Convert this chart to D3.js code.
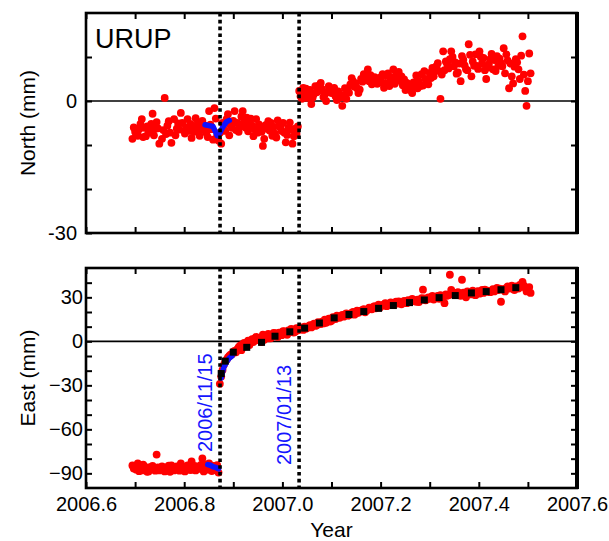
<!DOCTYPE html>
<html>
<head>
<meta charset="utf-8">
<script src="https://cdn.jsdelivr.net/npm/d3@7"></script>
<style>
  body { margin: 0; background: #fff; }
  text { font-family: "Liberation Sans", Arial, sans-serif; }
</style>
</head>
<body>
<div id="chart"></div>
<script>
const station = "URUP";

/* events (decimal year) and their labels */
const eventYears = [2006.873, 2007.034];
const eventLabels = ["2006/11/15", "2007/01/13"];

/* ticks */
const xTickValues = [2006.6, 2006.7, 2006.8, 2006.9, 2007.0, 2007.1, 2007.2, 2007.3, 2007.4, 2007.5, 2007.6];
const xLabelValues = [2006.6, 2006.8, 2007.0, 2007.2, 2007.4, 2007.6];
const northTicks = [-20, -10, 0, 10];
const northLabels = [-30, 0];
const eastTicks = [-90, -80, -70, -60, -50, -40, -30, -20, -10, 0, 10, 20, 30, 40];
const eastLabels = [-90, -60, -30, 0, 30];

/* daily solutions: [day of 2006 (Jan 1 = 1), mm] */
const northObs = [
  [254,-8.6],[255,-6.0],[256,-7.0],[257,-7.5],[258,-7.9],[259,-6.4],[260,-5.2],[261,-4.1],[262,-8.2],[263,-6.1],
  [264,-8.0],[265,-5.8],[266,-7.2],[267,-6.6],[268,-5.2],[269,-2.9],[270,-7.8],[271,-6.3],[272,-4.8],[273,-6.2],
  [274,-9.7],[276,-8.6],[277,-6.6],[278,0.7],[279,-7.5],[280,-5.6],[281,-4.6],[282,-7.2],[283,-9.5],[285,-4.1],
  [286,-7.8],[287,-6.3],[288,-5.1],[289,-6.5],[290,-2.7],[291,-5.0],[293,-7.4],[294,-6.0],[295,-4.1],[296,-6.8],
  [297,-5.2],[298,-8.4],[299,-5.6],[300,-7.0],[301,-3.9],[302,-6.3],[303,-5.0],[304,-7.9],[305,-6.5],[306,-4.5],
  [307,-6.0],[308,-5.6],[309,-7.2],[310,-8.2],[311,-2.3],[312,-5.4],[313,-6.4],[314,-8.8],[315,-1.6],[316,-4.0],
  [317,-7.9],[318,-9.0],
  [319,-7.2],[320,-9.7],[321,-5.0],[322,-6.4],[323,-6.8],[324,-4.1],[325,-3.0],[326,-7.8],[327,-5.5],[328,-6.1],
  [329,-4.5],[330,-2.3],[331,-6.6],[332,-5.0],[333,-7.0],[334,-5.8],[335,-3.5],[336,-2.3],[337,-4.6],[338,-6.0],
  [339,-3.8],[340,-6.9],[341,-5.2],[342,-4.0],[343,-5.6],[344,-8.0],[345,-6.5],[346,-4.1],[347,-7.2],[348,-5.3],
  [349,-5.8],[350,-7.0],[351,-10.2],[352,-8.6],[353,-5.5],[354,-6.3],[355,-4.6],[356,-6.7],[357,-5.0],[358,-7.9],
  [359,-5.9],[360,-7.4],[361,-8.3],[362,-4.4],[363,-5.6],[364,-6.0],[365,-6.8],[366,-5.0],[367,-7.2],[368,-9.4],
  [369,-7.7],[370,-6.1],[371,-4.9],[372,-6.4],[373,-9.7],[374,-8.0],[375,-6.3],[376,-7.5],[377,-5.8],
  [378,2.3],[379,1.1],[380,0.5],[381,3.0],[382,1.8],[383,2.8],[384,0.7],[385,1.5],[386,2.5],[387,-0.7],
  [388,0.8],[389,1.6],[390,3.4],[391,2.0],[392,2.2],[393,3.6],[394,4.1],[395,2.7],[396,0.9],[397,1.5],
  [398,0.0],[399,2.0],[400,3.4],[401,2.4],[402,1.8],[403,2.6],[404,3.0],[405,1.1],[406,0.2],[407,2.2],
  [408,1.6],[409,0.8],[410,-1.1],[411,1.2],[412,2.9],[413,0.5],[414,2.5],[415,1.9],[416,3.8],[417,5.2],
  [418,4.5],[419,3.3],[420,4.0],[421,2.9],[422,1.8],[423,2.6],[424,5.0],[425,4.4],[426,6.1],[427,4.8],
  [428,5.6],[429,7.2],[430,4.5],[431,5.9],[432,3.8],[433,4.8],[434,5.4],[435,5.0],[436,3.9],[437,5.2],
  [438,4.2],[439,5.5],[440,6.1],[441,3.0],[442,4.1],[443,5.8],[444,6.3],[445,3.4],[446,4.7],[447,5.3],
  [448,7.2],[449,3.9],[450,6.1],[451,4.6],[452,6.6],[453,5.0],[454,5.6],[455,3.6],[456,4.9],[457,2.5],
  [458,4.1],[459,3.8],[460,3.0],[461,2.4],[462,1.8],[463,4.2],[464,3.3],[465,5.8],[466,2.9],[467,4.5],
  [468,3.4],[469,6.1],[470,3.5],[471,6.8],[472,5.0],[473,4.4],[474,3.8],[475,6.4],[476,5.2],[477,7.5],
  [478,5.6],[479,7.0],[480,7.9],[481,8.6],[482,6.8],[483,0.5],[484,6.0],[485,11.3],[486,7.0],[487,9.0],
  [488,8.4],[489,7.4],[490,9.5],[491,11.3],[492,10.0],[493,7.9],[494,8.8],[495,6.2],[496,6.5],[497,8.5],
  [498,4.5],[499,10.2],[500,9.4],[501,8.1],[502,7.2],[503,7.0],[504,12.9],[505,10.5],[506,5.6],[507,9.0],
  [508,8.0],[509,10.6],[510,8.0],[511,7.3],[512,11.3],[513,10.0],[514,8.6],[515,9.8],[516,7.0],[517,5.0],
  [518,7.6],[519,8.4],[520,9.5],[521,10.7],[522,7.2],[523,9.3],[524,6.8],[525,10.2],[526,8.0],[527,9.6],
  [528,8.6],[529,7.9],[530,12.0],[531,6.3],[532,10.6],[533,9.2],[534,2.9],[535,8.5],[536,5.6],[537,4.0],
  [538,7.8],[539,9.5],[540,8.8],[541,7.2],[542,5.0],[543,10.3],[544,14.7],[545,6.0],[546,2.3],[547,-1.1],
  [548,4.5],[549,10.8],[550,6.3]
];

const eastObs = [
  [254,-84.6],[255,-86.7],[256,-85.5],[257,-87.5],[258,-83.3],[259,-88.5],[260,-86.0],[261,-88.0],[262,-84.0],[263,-85.3],
  [264,-87.2],[265,-89.0],[266,-88.7],[267,-85.8],[268,-86.7],[269,-85.0],[270,-87.0],[271,-88.2],[272,-77.2],[273,-86.0],
  [274,-88.0],[276,-85.3],[277,-87.0],[278,-88.7],[279,-86.0],[280,-86.7],[281,-84.8],[282,-89.0],[283,-84.6],[285,-88.0],
  [286,-86.5],[287,-85.3],[288,-86.5],[289,-88.2],[290,-83.3],[291,-87.4],[293,-88.7],[294,-85.6],[295,-84.6],[296,-86.2],
  [297,-87.8],[298,-81.9],[299,-87.5],[300,-85.0],[301,-88.0],[302,-85.3],[303,-87.0],[304,-86.0],[305,-84.2],[306,-79.9],
  [307,-88.7],[308,-86.3],[309,-84.0],[310,-87.5],[311,-83.3],[312,-86.9],[313,-88.4],[314,-85.0],[315,-87.8],[316,-85.7],
  [317,-84.5],[318,-89.5],
  [319,-29.0],[320,-24.0],[321,-19.5],[322,-16.0],[323,-14.0],[324,-12.5],[325,-11.0],[326,-10.0],[327,-9.0],[328,-8.8],
  [329,-7.0],[330,-6.5],[331,-7.5],[332,-5.4],[333,-4.0],[334,-3.0],[335,-6.0],[336,-2.0],[337,-1.0],[338,-3.5],
  [339,-1.0],[340,0.5],[341,-2.5],[342,-0.5],[343,1.5],[344,-0.5],[345,2.0],[346,3.0],[347,0.8],[348,1.5],
  [349,2.5],[350,-0.5],[351,4.5],[352,1.0],[353,3.0],[354,3.5],[355,5.0],[356,2.0],[357,2.2],[358,4.0],
  [359,5.8],[360,5.5],[361,3.5],[362,3.0],[363,6.0],[364,4.8],[365,4.2],[366,7.0],[367,6.8],[368,5.0],
  [369,4.5],[370,7.5],[371,6.2],[372,8.5],[373,8.0],[374,6.0],[375,6.5],[376,9.0],[377,7.5],
  [378,8.0],[379,9.5],[380,9.0],[381,7.8],[382,10.0],[383,8.6],[384,9.2],[385,10.4],[386,11.0],[387,9.5],
  [388,11.2],[389,12.0],[390,10.5],[391,11.0],[392,13.0],[393,12.5],[394,11.8],[395,13.5],[396,12.2],[397,14.8],
  [398,12.6],[399,14.2],[400,15.5],[401,13.5],[402,14.0],[403,16.5],[404,15.8],[405,15.2],[406,17.5],[407,16.4],
  [408,16.0],[409,17.2],[410,18.0],[411,16.8],[412,18.3],[413,19.0],[414,17.5],[415,17.8],[416,18.8],[417,19.4],
  [418,20.0],[419,18.2],[420,19.0],[421,21.0],[422,19.5],[423,20.8],[424,20.5],[425,21.4],[426,22.0],[427,19.8],
  [428,21.0],[429,21.5],[430,23.0],[431,22.2],[432,21.8],[433,23.4],[434,24.0],[435,22.5],[436,23.6],[437,25.0],
  [438,23.0],[439,24.2],[440,24.5],[441,25.2],[442,26.0],[443,24.0],[444,24.8],[445,25.5],[446,26.5],[447,26.0],
  [448,25.0],[449,25.6],[450,27.0],[451,25.8],[452,27.2],[453,26.5],[454,25.2],[455,26.3],[456,27.5],[457,26.9],
  [458,26.0],[459,28.0],[460,27.2],[461,27.0],[462,29.0],[463,28.2],[464,27.5],[465,27.0],[466,28.5],[467,26.8],
  [468,28.4],[469,29.5],[470,35.2],[471,29.2],[472,28.0],[473,28.8],[474,30.0],[475,29.0],[476,30.2],[477,31.0],
  [478,28.5],[479,29.6],[480,30.5],[481,31.0],[482,29.0],[483,31.5],[484,30.2],[485,30.0],[486,26.0],[487,32.0],
  [488,31.0],[489,31.5],[490,45.4],[491,35.0],[492,33.0],[493,32.0],[494,33.0],[495,32.4],[496,33.5],[497,31.8],
  [498,31.0],[499,42.0],[500,33.2],[501,32.5],[502,30.0],[503,34.0],[504,33.5],[505,32.8],[506,32.0],[507,34.5],
  [508,33.5],[509,31.5],[510,33.8],[511,34.2],[512,32.5],[513,33.2],[514,35.0],[515,33.0],[516,35.2],[517,34.0],
  [518,34.5],[519,33.8],[520,33.5],[521,34.6],[522,35.5],[523,34.0],[524,35.0],[525,36.5],[526,35.0],[527,36.0],
  [528,27.0],[529,35.4],[530,35.5],[531,34.0],[532,36.4],[533,37.5],[534,36.0],[535,37.0],[536,38.0],[537,35.6],
  [538,35.0],[539,37.5],[540,36.8],[541,36.0],[542,38.5],[543,37.4],[544,40.6],[545,38.0],[546,36.5],[547,34.0],
  [548,36.2],[549,37.0],[550,33.0]
];

/* postseismic model (black squares) */
const modelDay = [320, 323, 329, 339, 350, 360, 371, 382, 393, 404, 415, 426, 437, 448, 460, 471, 482, 494, 506, 517, 528, 539];
const modelEast = [-22, -13.5, -7.4, -4.1, -0.7, 3.5, 6.5, 9.0, 12.5, 16.0, 18.3, 20.3, 22.5, 24.4, 26.4, 28.2, 29.8, 31.2, 33.0, 33.9, 35.2, 36.6];

/* blue high-rate segments */
const blueNorthDay = [308, 311, 314, 317, 319, 321, 324, 326];
const blueNorth = [-5.4, -5.6, -5.8, -7.9, -7.2, -6.0, -4.7, -4.4];
const blueEastPreDay = [310, 312, 314, 316, 318];
const blueEastPre = [-84, -84.5, -85.5, -86, -87];
const blueEastPostDay = [320, 321, 322, 324, 326, 328];
const blueEastPost = [-25, -21, -17.5, -14, -11.5, -10];

const dayToYear = d => 2006 + (d - 0.5) / 365;

/* svg setup */
const width = 609, height = 541;
const left = 86, right = 577;

const svg = d3.select("#chart")
  .append("svg")
  .attr("width", width)
  .attr("height", height);

const x = d3.scaleLinear().domain([2006.6, 2007.6]).range([left, right]);
const yN = d3.scaleLinear().domain([-30, 20]).range([233, 13]);
const yE = d3.scaleLinear().domain([-100, 50]).range([488, 268]);

function drawPanel(y, ticks, labels, fmt, pad, showX) {
  const g = svg.append("g");
  const [bottom, top] = y.range();

  // zero line
  g.append("line")
    .attr("x1", left).attr("x2", right)
    .attr("y1", y(0)).attr("y2", y(0))
    .attr("stroke", "#000").attr("stroke-width", 1.6);

  // y axes
  g.append("g")
    .attr("transform", `translate(${left},0)`)
    .call(d3.axisLeft(y).tickValues(ticks.concat(labels).filter((v, i, a) => a.indexOf(v) === i))
      .tickSize(-6).tickPadding(pad)
      .tickFormat(d => labels.includes(d) ? fmt(d) : ""));
  g.append("g")
    .attr("transform", `translate(${right},0)`)
    .call(d3.axisRight(y).tickValues(ticks).tickSize(-6).tickFormat(""));

  // x axes
  g.append("g")
    .attr("transform", `translate(0,${bottom})`)
    .call(d3.axisBottom(x).tickValues(xTickValues).tickSize(-6).tickPadding(9)
      .tickFormat(d => showX && xLabelValues.some(v => Math.abs(v - d) < 1e-6) ? d3.format(".1f")(d) : ""));
  g.append("g")
    .attr("transform", `translate(0,${top})`)
    .call(d3.axisTop(x).tickValues(xTickValues).tickSize(-6).tickFormat(""));

  g.selectAll(".domain").remove();
  g.selectAll(".tick line").attr("stroke", "#000").attr("stroke-width", 2);
  g.selectAll(".tick text")
    .attr("fill", "#000")
    .style("font-size", "20px")
    .style("font-family", '"Liberation Sans", Arial, sans-serif');

  return g;
}

function drawFrame(y) {
  const [bottom, top] = y.range();
  svg.append("rect")
    .attr("x", left).attr("y", top)
    .attr("width", right - left).attr("height", bottom - top)
    .attr("fill", "none").attr("stroke", "#000").attr("stroke-width", 2.6);
  svg.append("line")
    .attr("x1", right).attr("x2", right).attr("y1", top - 1).attr("y2", bottom + 1)
    .attr("stroke", "#000").attr("stroke-width", 4);
}

function drawEvents(y) {
  const [bottom, top] = y.range();
  svg.append("g").selectAll("line")
    .data(eventYears)
    .join("line")
    .attr("x1", d => x(d)).attr("x2", d => x(d))
    .attr("y1", top).attr("y2", bottom)
    .attr("stroke", "#000")
    .attr("stroke-width", 3.6)
    .attr("stroke-dasharray", "3.6 3.2");
}

function drawBlue(days, vals, y) {
  const pts = days.map((d, i) => [x(dayToYear(d)), y(vals[i])]);
  svg.append("path")
    .attr("d", d3.line()(pts))
    .attr("fill", "none")
    .attr("stroke", "#1010ff")
    .attr("stroke-width", 5.5)
    .attr("stroke-linecap", "round")
    .attr("stroke-linejoin", "round");
}

/*
 * North panel
 */
drawPanel(yN, northTicks, northLabels, d => d === 0 ? "0" : "-30", 9, false);

svg.append("g").selectAll("circle")
  .data(northObs)
  .join("circle")
  .attr("cx", d => x(dayToYear(d[0])))
  .attr("cy", d => yN(d[1]))
  .attr("r", 3.9)
  .attr("fill", "#ff0000");

drawBlue(blueNorthDay, blueNorth, yN);
drawEvents(yN);
drawFrame(yN);

svg.append("text")
  .attr("x", 95).attr("y", 48)
  .style("font-size", "27px")
  .text(station);

/*
 * East panel
 */
drawPanel(yE, eastTicks, eastLabels, d3.format(""), 3, true);

svg.append("g").selectAll("circle")
  .data(eastObs)
  .join("circle")
  .attr("cx", d => x(dayToYear(d[0])))
  .attr("cy", d => yE(d[1]))
  .attr("r", 3.9)
  .attr("fill", "#ff0000");

drawBlue(blueEastPreDay, blueEastPre, yE);
drawBlue(blueEastPostDay, blueEastPost, yE);

svg.append("g").selectAll("rect")
  .data(modelDay)
  .join("rect")
  .attr("x", (d) => x(dayToYear(d)) - 3.5)
  .attr("y", (d, i) => yE(modelEast[i]) - 3.5)
  .attr("width", 7).attr("height", 7)
  .attr("fill", "#000");

drawEvents(yE);
drawFrame(yE);

// event date labels
const labelY = [452, 465];
svg.append("g").selectAll("text")
  .data(eventLabels)
  .join("text")
  .attr("transform", (d, i) => `translate(${x(eventYears[i]) - 5},${labelY[i]}) rotate(-90)`)
  .attr("dy", "-0.15em")
  .attr("fill", "#1414ff")
  .style("font-size", "20px")
  .text(d => d);

/* axis titles */
svg.append("text")
  .attr("transform", `translate(35,${(13 + 233) / 2}) rotate(-90)`)
  .attr("text-anchor", "middle")
  .style("font-size", "21px")
  .text("North (mm)");

svg.append("text")
  .attr("transform", `translate(35,${(268 + 488) / 2}) rotate(-90)`)
  .attr("text-anchor", "middle")
  .style("font-size", "21px")
  .text("East (mm)");

svg.append("text")
  .attr("x", (left + right) / 2)
  .attr("y", 537)
  .attr("text-anchor", "middle")
  .style("font-size", "21px")
  .text("Year");
</script>
</body>
</html>
